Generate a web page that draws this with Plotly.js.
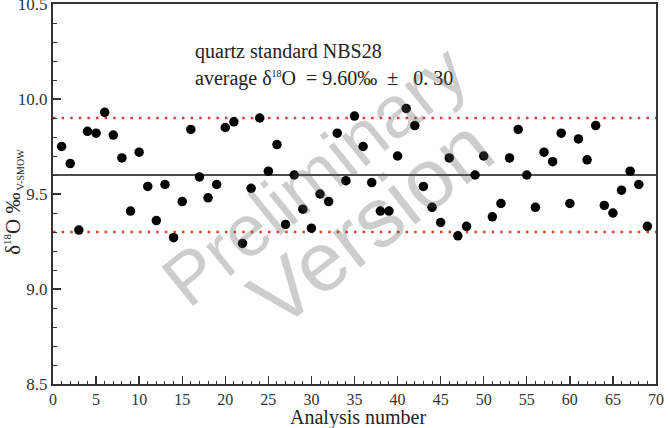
<!DOCTYPE html>
<html>
<head>
<meta charset="utf-8">
<script src="https://cdn.plot.ly/plotly-3.0.1.min.js"></script>
<style>html,body{margin:0;padding:0;background:#fff;}#chart{width:668px;height:428px;}</style>
</head>
<body>
<div id="chart"></div>
<script>
const analysisNumber = [1,2,3,4,5,6,7,8,9,10,11,12,13,14,15,16,17,18,19,20,21,22,23,24,25,26,27,28,29,30,31,32,33,34,35,36,37,38,39,40,41,42,43,44,45,46,47,48,49,50,51,52,53,54,55,56,57,58,59,60,61,62,63,64,65,66,67,68,69];
const delta18O = [9.75,9.66,9.31,9.83,9.82,9.93,9.81,9.69,9.41,9.72,9.54,9.36,9.55,9.27,9.46,9.84,9.59,9.48,9.55,9.85,9.88,9.24,9.53,9.90,9.62,9.76,9.34,9.60,9.42,9.32,9.50,9.46,9.82,9.57,9.91,9.75,9.56,9.41,9.41,9.70,9.95,9.86,9.54,9.43,9.35,9.69,9.28,9.33,9.60,9.70,9.38,9.45,9.69,9.84,9.60,9.43,9.72,9.67,9.82,9.45,9.79,9.68,9.86,9.44,9.40,9.52,9.62,9.55,9.33];
const meanValue = 9.60;
const limitOffset = 0.30;
const xTickValues = [0,5,10,15,20,25,30,35,40,45,50,55,60,65,70];
const yTickValues = [8.5,9.0,9.5,10.0,10.5];
const noteLine1 = "quartz standard NBS28";
const noteLine2 = "average δ<sup><span style=\"font-size:10px\">18</span></sup>O \u00a0= 9.60‰ \u00a0± \u00a0\u00a00. 30";
const yTitle = "δ<sup><span style=\"font-size:11px\">18</span></sup>O ‰<sub><span style=\"font-size:10px\"> V-SMOW</span></sub>";
const xTitle = "Analysis number";
const watermark1 = "Preliminary";
const watermark2 = "Version";

const serif = "Liberation Serif";
const wmColor = "rgba(90,90,90,0.30)";
const wmFamily = "Liberation Sans";

const trace = {
  x: analysisNumber, y: delta18O, type: "scatter", mode: "markers",
  marker: {color: "#000", size: 9.5}, hoverinfo: "x+y", showlegend: false
};

const layout = {
  width: 668, height: 428,
  margin: {l: 53, r: 12, t: 4, b: 44},
  paper_bgcolor: "#fff", plot_bgcolor: "#fff",
  font: {family: serif, color: "#222"},
  xaxis: {
    range: [0, 70], tickvals: xTickValues, ticktext: xTickValues.map(String),
    ticks: "inside", ticklen: 8, tickwidth: 1.3, tickcolor: "#333",
    minor: {dtick: 1, ticks: "inside", ticklen: 3.5, tickwidth: 1, tickcolor: "#333"},
    showline: true, linecolor: "#333", linewidth: 2, mirror: true,
    showgrid: false, zeroline: false,
    tickfont: {family: serif, size: 16, color: "#333"}
  },
  yaxis: {
    range: [8.5, 10.5], tickvals: yTickValues, tickformat: ".1f",
    ticks: "inside", ticklen: 8, tickwidth: 1.3, tickcolor: "#333",
    minor: {dtick: 0.1, ticks: "inside", ticklen: 4, tickwidth: 1, tickcolor: "#333"},
    showline: true, linecolor: "#333", linewidth: 2, mirror: true,
    showgrid: false, zeroline: false, ticklabeloverflow: "allow",
    tickfont: {family: serif, size: 17, color: "#333"}
  },
  shapes: [
    {type: "line", xref: "paper", x0: 0, x1: 1, yref: "y", y0: meanValue, y1: meanValue,
     line: {color: "#111", width: 1.5}, layer: "below"},
    {type: "line", xref: "paper", x0: 0, x1: 1, yref: "y", y0: meanValue + limitOffset, y1: meanValue + limitOffset,
     line: {color: "rgb(214,60,60)", width: 2.5, dash: "2.5px,6.1px"}, layer: "below"},
    {type: "line", xref: "paper", x0: 0, x1: 1, yref: "y", y0: meanValue - limitOffset, y1: meanValue - limitOffset,
     line: {color: "rgb(214,60,60)", width: 2.5, dash: "2.5px,6.1px"}, layer: "below"}
  ],
  annotations: [
    {text: noteLine1, xref: "paper", yref: "paper", x: 0.232, y: 0.874, xanchor: "left", yanchor: "middle",
     showarrow: false, font: {family: serif, size: 20, color: "#222"}},
    {text: noteLine2, xref: "paper", yref: "paper", x: 0.232, y: 0.805, xanchor: "left", yanchor: "middle",
     showarrow: false, font: {family: serif, size: 20, color: "#222"}},
    {text: yTitle, xref: "paper", yref: "paper", x: -0.066, y: 0.48, xanchor: "center", yanchor: "middle",
     textangle: -90, showarrow: false, font: {family: serif, size: 21, color: "#222"}},
    {text: xTitle, xref: "paper", yref: "paper", x: 0.505, y: -0.089, xanchor: "center", yanchor: "middle",
     showarrow: false, font: {family: serif, size: 20, color: "#222"}},
    {text: watermark1, xref: "paper", yref: "paper", x: 0.435, y: 0.55, xanchor: "center", yanchor: "middle",
     textangle: -39, showarrow: false, font: {family: wmFamily, size: 73, color: wmColor}},
    {text: watermark2, xref: "paper", yref: "paper", x: 0.528, y: 0.425, xanchor: "center", yanchor: "middle",
     textangle: -38, showarrow: false, font: {family: wmFamily, size: 84, color: wmColor}}
  ]
};

Plotly.newPlot("chart", [trace], layout, {displayModeBar: false, staticPlot: true});
</script>
</body>
</html>
